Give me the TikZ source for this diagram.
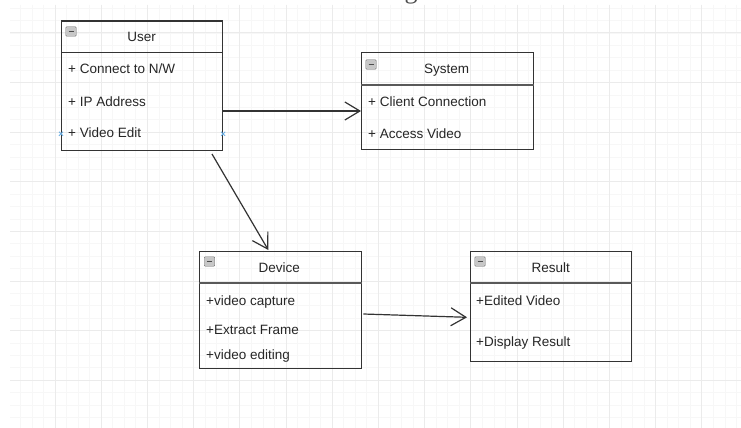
\documentclass[tikz,border=0pt]{standalone}
\usepackage{fontspec}
\setmainfont{Liberation Sans}
\newfontfamily\captionfont{Liberation Serif}
\usetikzlibrary{arrows.meta,positioning}

\tikzset{
  classbox/.style={draw=black!80, line width=1.1pt, inner sep=0pt, anchor=north west},
  divider/.style={draw=black!65, line width=1.8pt},
  classname/.style={anchor=base, font=\fontsize{13.5}{16}\selectfont, text=black!85, inner sep=0pt},
  member/.style={anchor=base west, font=\fontsize{13.5}{16}\selectfont, text=black!85, inner sep=0pt},
  collapse/.style={draw=black!55, fill=black!22, rounded corners=1pt, inner sep=0pt,
    minimum width=10.5, minimum height=9.5},
  assoc/.style={draw=black!80, line width=1.2pt, -{Straight Barb[length=15pt,width=18pt,line width=1.2pt]}},
  anchormark/.style={draw=cyan!70!blue!60, line width=0.9pt},
}
\newcommand{\minusmark}{\textcolor{black!70}{\rule{5pt}{1.3pt}}}

\begin{document}
\begin{tikzpicture}[x=1pt,y=-1pt]
  \useasboundingbox[fill=white] (0,0) rectangle (741,428);

  % background grid
  \begin{scope}
    \clip (10,5) rectangle (741,428);
    \foreach \k in {-4,...,59}
      \draw[black!3, line width=0.8pt] (55+11.55*\k,5) -- (55+11.55*\k,428);
    \foreach \k in {-3,...,32}
      \draw[black!3, line width=0.8pt] (10,33+12.4*\k) -- (741,33+12.4*\k);
    \foreach \k in {-1,...,14}
      \draw[black!8, line width=1pt] (55+46.2*\k,5) -- (55+46.2*\k,428);
    \foreach \k in {-1,...,8}
      \draw[black!8, line width=1pt] (10,33+49.6*\k) -- (741,33+49.6*\k);
  \end{scope}

  % caption, cut by the top edge
  \node[anchor=base, font=\captionfont\fontsize{26}{30}\selectfont, text=black!70, inner sep=0pt]
    (caption) at (384,-1.5) {Class diagram};

  % User
  \node[classbox, minimum width=161, minimum height=129] (user) at (61,20.5) {};
  \draw[black!80, line width=1.1pt] ([yshift=-32pt]user.north west) -- ([yshift=-32pt]user.north east);
  \node[collapse] (usericon) at (71,31.5) {\minusmark};
  \node[classname] (username) at (141.7,41.7) {User};
  \node[member] (user1) at (68,73.3) {+ Connect to N/W};
  \node[member] (user2) at (68,106) {+ IP Address};
  \node[member] (user3) at (68,137.7) {+ Video Edit};
  \foreach \side in {west,east} {
    \draw[anchormark] ([shift={(-2pt,14.8pt)}]user.south \side) -- ++(4,-4);
    \draw[anchormark] ([shift={(-2pt,18.8pt)}]user.south \side) -- ++(4,4);
  }

  % System
  \node[classbox, minimum width=171.5, minimum height=96.7] (system) at (361,52.3) {};
  \draw[divider] ([yshift=-32.7pt]system.north west) -- ([yshift=-32.7pt]system.north east);
  \node[collapse] (systemicon) at (371,64.5) {\minusmark};
  \node[classname] (systemname) at (446.7,74) {System};
  \node[member] (system1) at (368,106) {+ Client Connection};
  \node[member] (system2) at (368,138.3) {+ Access Video};

  % Device
  \node[classbox, minimum width=161.7, minimum height=117] (device) at (199,250.7) {};
  \draw[divider] ([yshift=-32pt]device.north west) -- ([yshift=-32pt]device.north east);
  \node[collapse] (deviceicon) at (209.5,261.5) {\minusmark};
  \node[classname] (devicename) at (279.3,272.3) {Device};
  \node[member] (device1) at (206,305) {+video capture};
  \node[member] (device2) at (206,334.3) {+Extract Frame};
  \node[member] (device3) at (206,359.3) {+video editing};

  % Result
  \node[classbox, minimum width=161, minimum height=110] (result) at (470,250.7) {};
  \draw[divider] ([yshift=-32pt]result.north west) -- ([yshift=-32pt]result.north east);
  \node[collapse] (resulticon) at (480,261.5) {\minusmark};
  \node[classname] (resultname) at (550.7,272) {Result};
  \node[member] (result1) at (476,305) {+Edited Video};
  \node[member] (result2) at (476,346) {+Display Result};

  % associations
  \coordinate (userout) at (222,111);
  \coordinate (userdown) at (212,154);
  \coordinate (devicein) at (268.3,250);
  \coordinate (deviceout) at (363.3,314);
  \coordinate (resultin) at (467,317.3);
  \draw[assoc] (userout) -- (userout -| system.west);
  \draw[assoc] (userdown) -- (devicein);
  \draw[assoc] (deviceout) -- (resultin);
\end{tikzpicture}
\end{document}
